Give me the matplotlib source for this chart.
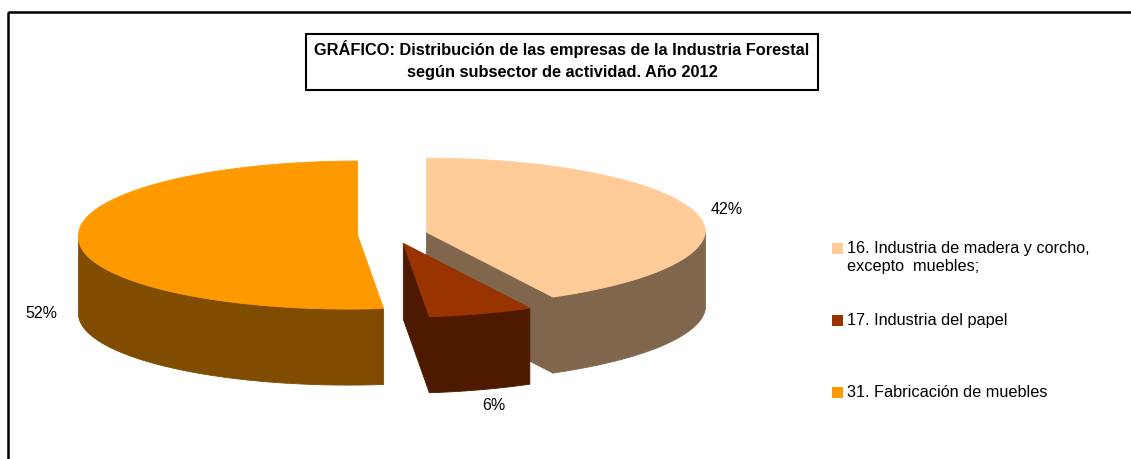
import numpy as np
import matplotlib
matplotlib.use("Agg")
import matplotlib.pyplot as plt
from matplotlib.patches import Polygon, Rectangle

# ---------------- data ----------------
categories = ["16. Industria de madera y corcho,\nexcepto  muebles;",
              "17. Industria del papel",
              "31. Fabricación de muebles"]
values = [42, 6, 52]
title_lines = ["GRÁFICO: Distribución de las empresas de la Industria Forestal",
               "según subsector de actividad. Año 2012"]

# ---------------- style / layout ----------------
top_colors = ["#FFCC99", "#993300", "#FF9900"]
FONT = ["Liberation Sans", "DejaVu Sans"]
W, H = 1131, 459
CX, CY = 392.5, 234.5        # pie centre (pixels)
RX, RY = 279.0, 74.0         # ellipse radii
DEPTH = 76.0                 # extrusion depth
EXPLODE = 35.0               # explosion distance
SKEW = 9.0                   # slight perspective lean of the front half
label_pos = [(727, 209), (494, 405), (41, 313)]

plt.rcParams['font.family'] = FONT
fig = plt.figure(figsize=(W / 100, H / 100), dpi=100)
ax = fig.add_axes([0, 0, 1, 1])
ax.set_xlim(0, W)
ax.set_ylim(H, 0)
ax.axis("off")


def darker(hexcol, f=0.5):
    r, g, b = matplotlib.colors.to_rgb(hexcol)
    return (r * f, g * f, b * f)


def front_intervals(a0, a1):
    """Parts of [a0, a1] (deg, a0<a1) where sin(a) < 0 (front of the pie)."""
    out = []
    for k in range(-2, 3):
        lo, hi = -180 + 360 * k, 360 * k
        s, e = max(a0, lo), min(a1, hi)
        if e > s:
            out.append((s, e))
    return out


total = float(sum(values))
slices = []
cum = 0.0
for i, v in enumerate(values):
    a_start = 90 - 360 * cum / total
    cum += v
    a_end = 90 - 360 * cum / total
    mid = np.radians((a_start + a_end) / 2)
    cx = CX + EXPLODE * np.cos(mid)
    cy = CY - EXPLODE * np.sin(mid) * RY / RX
    slices.append(dict(i=i, a0=a_end, a1=a_start, cx=cx, cy=cy))


def pt(s, a_deg, dz=0.0):
    a = np.radians(a_deg)
    lean = -SKEW * max(0.0, -np.sin(a))
    return (s["cx"] + RX * np.cos(a) + lean, s["cy"] - RY * np.sin(a) + dz)


# draw back-to-front
for s in sorted(slices, key=lambda d: d["cy"]):
    i = s["i"]
    top = top_colors[i]
    side = darker(top)
    kw = dict(closed=True, linewidth=0.6, joinstyle="round")
    # outer wall (front part)
    for lo, hi in front_intervals(s["a0"], s["a1"]):
        angs = np.linspace(lo, hi, 120)
        upper = [pt(s, a) for a in angs]
        lower = [pt(s, a, DEPTH) for a in angs[::-1]]
        ax.add_patch(Polygon(upper + lower, facecolor=side, edgecolor=side, **kw))
    # radial faces
    c_top = (s["cx"], s["cy"])
    c_bot = (s["cx"], s["cy"] + DEPTH)
    for a, normal in ((s["a0"], s["a0"] - 90), (s["a1"], s["a1"] + 90)):
        if np.sin(np.radians(normal)) < -1e-6:
            poly = [c_top, pt(s, a), pt(s, a, DEPTH), c_bot]
            ax.add_patch(Polygon(poly, facecolor=side, edgecolor=side, **kw))
    # top face
    angs = np.linspace(s["a0"], s["a1"], 240)
    poly = [c_top] + [pt(s, a) for a in angs]
    ax.add_patch(Polygon(poly, facecolor=top, edgecolor=top, **kw))

# percentage labels
for s, (lx, ly) in zip(slices, label_pos):
    pct = 100 * values[s["i"]] / total
    ax.text(lx, ly, f"{pct:.0f}%", ha="center", va="center", fontsize=11.5,
            color="black")

# legend
leg_x, leg_y0, leg_dy = 832, 248.5, 72
for i, cat in enumerate(categories):
    y = leg_y0 + i * leg_dy
    ax.add_patch(Rectangle((leg_x, y - 5.5), 11, 11, facecolor=top_colors[i],
                           edgecolor="none"))
    for j, line in enumerate(cat.split("\n")):
        ax.text(leg_x + 15, y + j * 18.5, line, ha="left", va="center",
                fontsize=11.7, color="black")

# title box
ax.add_patch(Rectangle((306, 34), 512, 56, fill=False, edgecolor="black",
                       linewidth=1.5))
ax.text(562, 49, title_lines[0], ha="center", va="center", fontsize=11.8,
        fontweight="bold")
ax.text(562, 72.5, title_lines[1], ha="center", va="center", fontsize=11.8,
        fontweight="bold")

# outer chart frame
ax.add_patch(Rectangle((8, 12), 1300, 600, fill=False, edgecolor="black",
                       linewidth=1.8))

fig.savefig("out.png", dpi=100, facecolor="white")
